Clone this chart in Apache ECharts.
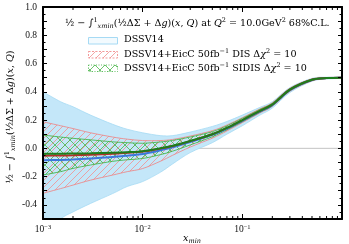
<!DOCTYPE html>
<html><head><meta charset="utf-8">
<script src="https://cdn.jsdelivr.net/npm/echarts@6/dist/echarts.min.js"></script>
<style>html,body{margin:0;padding:0;background:#fff}#c{width:349px;height:244px}</style>
</head><body><div id="c"></div>
<script>
// ---- data ----
const xMin = [0.001, 0.0015, 0.002, 0.003, 0.005, 0.007, 0.01, 0.015, 0.02, 0.03, 0.05, 0.07, 0.1, 0.15, 0.2, 0.3, 0.5, 0.7, 1.0];
const dssvCentral = [-0.085, -0.082, -0.079, -0.072, -0.062, -0.052, -0.040, -0.014, 0.008, 0.045, 0.095, 0.140, 0.195, 0.260, 0.306, 0.412, 0.484, 0.497, 0.500];
const dssvUpper   = [0.400, 0.330, 0.294, 0.235, 0.170, 0.135, 0.110, 0.090, 0.090, 0.115, 0.155, 0.190, 0.235, 0.290, 0.330, 0.430, 0.495, 0.503, 0.505];
const dssvLower   = [-0.620, -0.500, -0.450, -0.390, -0.320, -0.270, -0.235, -0.170, -0.110, -0.030, 0.040, 0.100, 0.160, 0.235, 0.285, 0.395, 0.475, 0.490, 0.495];
const disCentral  = [-0.052, -0.051, -0.049, -0.045, -0.038, -0.031, -0.023, -0.002, 0.016, 0.051, 0.100, 0.145, 0.200, 0.265, 0.310, 0.415, 0.485, 0.497, 0.500];
const disUpper    = [0.188, 0.160, 0.140, 0.110, 0.080, 0.065, 0.055, 0.055, 0.063, 0.087, 0.125, 0.165, 0.217, 0.279, 0.322, 0.425, 0.491, 0.501, 0.503];
const disLower    = [-0.318, -0.285, -0.260, -0.225, -0.189, -0.165, -0.143, -0.092, -0.049, 0.009, 0.072, 0.123, 0.182, 0.250, 0.297, 0.404, 0.478, 0.493, 0.497];
const sidisCentral= [-0.038, -0.038, -0.037, -0.035, -0.031, -0.027, -0.020, 0.000, 0.018, 0.052, 0.100, 0.145, 0.200, 0.265, 0.310, 0.415, 0.485, 0.497, 0.500];
const sidisUpper  = [0.094, 0.080, 0.071, 0.060, 0.046, 0.040, 0.036, 0.045, 0.056, 0.080, 0.118, 0.159, 0.212, 0.275, 0.319, 0.422, 0.489, 0.499, 0.502];
const sidisLower  = [-0.189, -0.165, -0.142, -0.118, -0.092, -0.081, -0.072, -0.045, -0.020, 0.024, 0.082, 0.131, 0.188, 0.255, 0.301, 0.408, 0.481, 0.495, 0.498];
const xMinorTicks = [0.002,0.003,0.004,0.005,0.006,0.007,0.008,0.009,0.02,0.03,0.04,0.05,0.06,0.07,0.08,0.09,0.2,0.3,0.4,0.5,0.6,0.7,0.8,0.9];
const legendNames = ['DSSV14', 'DSSV14+EicC 50fb⁻¹ DIS Δχ² = 10', 'DSSV14+EicC 50fb⁻¹ SIDIS Δχ² = 10'];

// ---- styling helpers ----
const FF = 'Liberation Serif';
const TF = 'DejaVu Serif';
function hatch(color, size, dirs, lw) {
  const c = document.createElement('canvas'); c.width = c.height = size;
  const g = c.getContext('2d'); g.strokeStyle = color; g.lineWidth = lw; g.beginPath();
  if (dirs.indexOf('/') >= 0) {
    g.moveTo(0, size); g.lineTo(size, 0);
    g.moveTo(-size/2, size/2); g.lineTo(size/2, -size/2);
    g.moveTo(size/2, size*1.5); g.lineTo(size*1.5, size/2);
  }
  if (dirs.indexOf('\\') >= 0) {
    g.moveTo(0, 0); g.lineTo(size, size);
    g.moveTo(-size/2, size/2); g.lineTo(size/2, size*1.5);
    g.moveTo(size/2, -size/2); g.lineTo(size*1.5, size/2);
  }
  g.stroke(); return c;
}
const redHatch = hatch('#f19191', 7, '/', 0.8);
const greenHatch = hatch('#49b649', 10, '/\\', 0.8);
const BLUE_FILL = '#c4e7f9', BLUE_EDGE = '#a6daf4';
const RED_EDGE = '#ef8080', GREEN_EDGE = '#3aae3a';

const pairs = (ys) => xMin.map((x, i) => [x, ys[i]]);

// Catmull-Rom style smoothing of pixel points into SVG path commands
function curveCmds(pts) {
  let d = '';
  for (let i = 0; i < pts.length - 1; i++) {
    const p0 = pts[i - 1] || pts[i], p1 = pts[i], p2 = pts[i + 1], p3 = pts[i + 2] || pts[i + 1];
    const c1 = [p1[0] + (p2[0] - p0[0]) / 6, p1[1] + (p2[1] - p0[1]) / 6];
    const c2 = [p2[0] - (p3[0] - p1[0]) / 6, p2[1] - (p3[1] - p1[1]) / 6];
    d += ' C' + c1[0].toFixed(2) + ',' + c1[1].toFixed(2) + ' ' + c2[0].toFixed(2) + ',' + c2[1].toFixed(2) + ' ' + p2[0].toFixed(2) + ',' + p2[1].toFixed(2);
  }
  return d;
}
function bandSeries(lo, up, fill, edge, z) {
  return {
    type: 'custom', clip: true, z: z, silent: true, data: [[0]],
    renderItem: function (params, api) {
      const U = xMin.map((x, i) => api.coord([x, up[i]]));
      const L = xMin.map((x, i) => api.coord([x, lo[i]]));
      const Lr = L.slice().reverse();
      const upPath = 'M' + U[0][0] + ',' + U[0][1] + curveCmds(U);
      const loPath = 'M' + L[0][0] + ',' + L[0][1] + curveCmds(L);
      const area = upPath + ' L' + Lr[0][0] + ',' + Lr[0][1] + curveCmds(Lr) + ' Z';
      return {type: 'group', children: [
        {type: 'path', shape: {pathData: area}, style: {fill: fill, stroke: 'none'}},
        {type: 'path', shape: {pathData: upPath}, style: {fill: 'none', stroke: edge, lineWidth: 0.8}},
        {type: 'path', shape: {pathData: loPath}, style: {fill: 'none', stroke: edge, lineWidth: 0.8}}
      ]};
    }
  };
}
function central(ys, color, z) {
  return {type: 'line', data: pairs(ys), symbol: 'none', smooth: 0.3, lineStyle: {color: color, width: 2}, z: z, silent: true};
}

const TS = 9.6;
const rich = {
  n: {fontFamily: TF, fontSize: TS, lineHeight: 13, color: '#111'},
  i: {fontFamily: TF, fontSize: TS, lineHeight: 13, fontStyle: 'italic', color: '#111'},
  sup: {fontFamily: TF, fontSize: 6.5, lineHeight: 8, verticalAlign: 'top', color: '#111'},
  sub: {fontFamily: TF, fontSize: 6.5, lineHeight: 8, verticalAlign: 'bottom', fontStyle: 'italic', color: '#111'}
};

const axisCommon = {
  type: 'log', logBase: 10, min: 0.001, max: 1, z: 10,
  axisLine: {onZero: false, lineStyle: {color: '#000', width: 2}},
  axisTick: {inside: true, length: 5, lineStyle: {color: '#000', width: 1}},
  splitLine: {show: false}
};
const yCommon = {
  type: 'value', min: -0.5, max: 1.0, interval: 0.1, z: 10,
  axisLine: {show: true, onZero: false, lineStyle: {color: '#000', width: 2}},
  axisTick: {show: true, inside: true, length: 4, lineStyle: {color: '#000', width: 1}},
  minorTick: {show: true, splitNumber: 2, length: 2.5, lineStyle: {color: '#000', width: 1}},
  splitLine: {show: false}
};

const option = {
  animation: false,
  grid: {left: 43, right: 7, top: 7, bottom: 25},
  xAxis: [
    Object.assign({}, axisCommon, {position: 'bottom',
      axisLabel: {margin: 5, rich: {b: {fontFamily: FF, fontSize: 9.5, color: '#111'}, s: {fontFamily: FF, fontSize: 6.5, verticalAlign: 'top', lineHeight: 8, color: '#111'}},
        formatter: v => v > 0.5 ? '' : '{b|10}{s|' + String(Math.round(Math.log10(v))).replace('-', '−') + '}'}}),
    Object.assign({}, axisCommon, {position: 'top', axisLabel: {show: false}})
  ],
  yAxis: [
    Object.assign({}, yCommon, {position: 'left',
      axisLabel: {margin: 6, fontFamily: FF, fontSize: 9.5, color: '#111',
        formatter: v => (Math.round(v * 10) % 2 === 0) ? (Math.abs(v) < 1e-9 ? '0.0' : v.toFixed(1)) : ''}}),
    Object.assign({}, yCommon, {position: 'right', axisLabel: {show: false}})
  ],
  graphic: [
    {type: 'text', left: 65, top: 17, z: 20, style: {rich: rich,
      text: '{n|½ − ∫}{sup|1}{sub|xmin}{n|(½ΔΣ + Δ}{i|g}{n|)(}{i|x}{n|, }{i|Q}{n|) at }{i|Q}{sup|2}{n| = 10.0GeV}{sup|2}{n| 68%C.L.}'}},
    {type: 'rect', z: 20, shape: {x: 88.5, y: 37.5, width: 29, height: 6.5}, style: {fill: '#f2fafe', stroke: BLUE_EDGE, lineWidth: 1}},
    {type: 'rect', z: 20, shape: {x: 88.5, y: 51.5, width: 29, height: 6.5}, style: {fill: {image: redHatch, repeat: 'repeat'}, stroke: RED_EDGE, lineWidth: 0.8, lineDash: [2, 1.5]}},
    {type: 'rect', z: 20, shape: {x: 88.5, y: 65, width: 29, height: 6.5}, style: {fill: {image: greenHatch, repeat: 'repeat'}, stroke: GREEN_EDGE, lineWidth: 0.8, lineDash: [1, 1.5]}},
    {type: 'text', left: 124, top: 34, z: 20, style: {rich: rich, text: '{n|' + legendNames[0] + '}'}},
    {type: 'text', left: 124, top: 48, z: 20, style: {rich: rich, text: '{n|DSSV14+EicC 50fb}{sup|−1}{n| DIS Δ}{i|χ}{sup|2}{n| = 10}'}},
    {type: 'text', left: 124, top: 61.5, z: 20, style: {rich: rich, text: '{n|DSSV14+EicC 50fb}{sup|−1}{n| SIDIS Δ}{i|χ}{sup|2}{n| = 10}'}},
    {type: 'text', x: 10, y: 117, rotation: Math.PI / 2, z: 20, style: {rich: rich, align: 'center', verticalAlign: 'middle',
      text: '{n|½ − ∫}{sup|1}{sub|xmin}{n|(½ΔΣ + Δ}{i|g}{n|)(}{i|x}{n|, }{i|Q}{n|)}'}},
    {type: 'text', x: 192, y: 238, z: 20, style: {rich: rich, align: 'center', verticalAlign: 'middle', text: '{i|x}{sub|min}'}}
  ],
  series: [
    {type: 'line', data: [[0.001, 0], [1, 0]], symbol: 'none', lineStyle: {color: '#b4b4b4', width: 0.8}, z: 1, silent: true},
    bandSeries(dssvLower, dssvUpper, BLUE_FILL, BLUE_EDGE, 2),
    bandSeries(disLower, disUpper, {image: redHatch, repeat: 'repeat'}, RED_EDGE, 3),
    bandSeries(sidisLower, sidisUpper, {image: greenHatch, repeat: 'repeat'}, GREEN_EDGE, 4),
    central(dssvCentral, '#3b78dc', 5),
    central(disCentral, '#b3302a', 6),
    central(sidisCentral, '#1d7d1d', 7),
    {type: 'custom', z: 11, silent: true, data: xMinorTicks.map(v => [v]),
      renderItem: function (params, api) {
        const cs = params.coordSys;
        const x = api.coord([api.value(0), 0])[0];
        const b = cs.y + cs.height, t = cs.y;
        return {type: 'group', children: [
          {type: 'line', shape: {x1: x, y1: b, x2: x, y2: b - 3}, style: {stroke: '#000', lineWidth: 1}},
          {type: 'line', shape: {x1: x, y1: t, x2: x, y2: t + 3}, style: {stroke: '#000', lineWidth: 1}}
        ]};
      }}
  ]
};
const chart = echarts.init(document.getElementById('c'), null, {renderer: 'canvas'});
chart.setOption(option);
</script></body></html>
